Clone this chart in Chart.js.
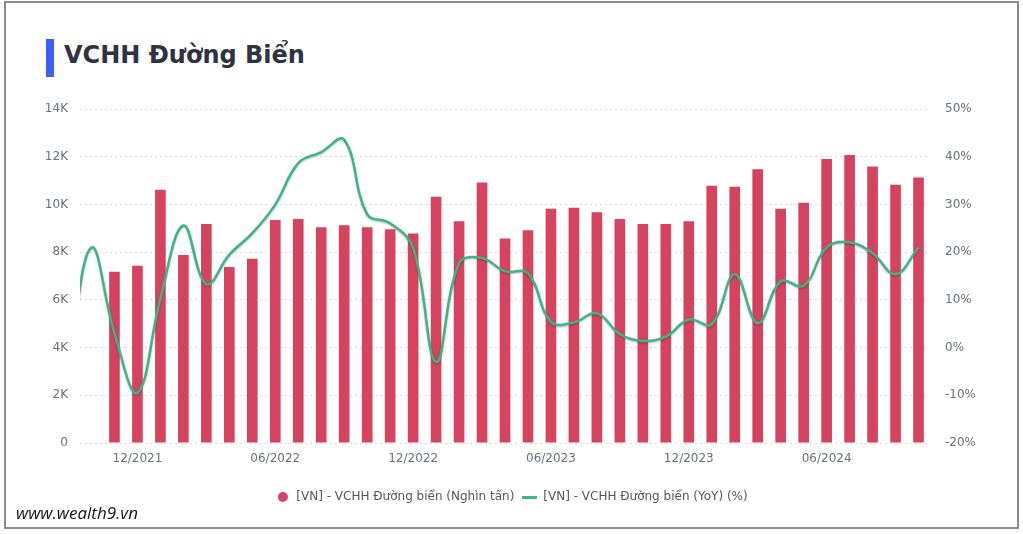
<!DOCTYPE html>
<html><head><meta charset="utf-8">
<script src="https://cdn.jsdelivr.net/npm/chart.js@4.4.0/dist/chart.umd.min.js"></script>
<style>
html,body{margin:0;padding:0;background:#fff;width:1023px;height:534px;overflow:hidden;position:relative;}
#frame{position:absolute;left:4px;top:1px;width:1015px;height:528px;box-sizing:border-box;border:2px solid #8c8c8c;}
#accent{position:absolute;left:46px;top:39px;width:8px;height:38px;background:#3d5ef2;}
#title{position:absolute;left:64px;top:43px;font-family:'DejaVu Sans';font-weight:bold;font-size:24px;line-height:24px;color:#2f3243;white-space:nowrap;}
#wm{position:absolute;left:16px;top:503px;font-family:'Open Sans';font-style:italic;font-size:17px;line-height:20px;color:#111;white-space:nowrap;}
#wrap{position:absolute;left:0;top:87px;width:1023px;height:433px;}
</style></head><body>
<div id="frame"></div>
<div id="accent"></div>
<div id="title">VCHH Đường Biển</div>
<div id="wrap"><canvas id="c" width="1023" height="433"></canvas></div>
<div id="wm">www.wealth9.vn</div>
<script>
const months = ['09/2021','10/2021','11/2021','12/2021','01/2022','02/2022','03/2022','04/2022','05/2022','06/2022','07/2022','08/2022','09/2022','10/2022','11/2022','12/2022','01/2023','02/2023','03/2023','04/2023','05/2023','06/2023','07/2023','08/2023','09/2023','10/2023','11/2023','12/2023','01/2024','02/2024','03/2024','04/2024','05/2024','06/2024','07/2024','08/2024','09/2024','10/2024'];
const volume = [null,null,7180,7430,10620,7890,9180,7380,7730,9350,9390,9050,9130,9050,8970,8790,10330,9300,10930,8580,8920,9820,9870,9680,9390,9180,9180,9300,10790,10750,11480,9820,10080,11910,12080,11600,10830,11140];
const yoy = [-3,21,3,-9.5,10.3,25.6,13.3,19.5,24.0,30.0,38.7,41.0,43.6,28.0,26.1,20.9,-3.0,17.7,18.8,16.0,15.6,5.4,5.3,7.2,2.8,1.4,2.3,5.9,4.9,15.4,5.1,13.9,13.0,21.0,22.1,19.8,15.4,21.0];
const firstShown = '10/2021';
const leftTicks = [0,2000,4000,6000,8000,10000,12000,14000];
const rightTicks = [-20,-10,0,10,20,30,40,50];
const seriesNames = ['[VN] - VCHH Đường biển (Nghìn tấn)','[VN] - VCHH Đường biển (YoY) (%)'];

const BAR = '#d5435e', LINE = '#3cb784';
const dot = document.createElement('canvas'); dot.width = 10; dot.height = 10;
{const g = dot.getContext('2d'); g.fillStyle = BAR; g.beginPath(); g.arc(5,5,5,0,Math.PI*2); g.fill();}
const dash = document.createElement('canvas'); dash.width = 15; dash.height = 3;
{const g = dash.getContext('2d'); g.fillStyle = LINE; g.fillRect(0,0,15,3);}

const lineShadow = {
  id:'lineShadow',
  beforeDatasetDraw(chart, args){
    if (args.meta.type === 'line') {
      const c = chart.ctx; c.save();
      c.shadowColor = 'rgba(0,0,0,0.28)'; c.shadowBlur = 2; c.shadowOffsetX = 0; c.shadowOffsetY = 1;
    }
  },
  afterDatasetDraw(chart, args){ if (args.meta.type === 'line') chart.ctx.restore(); }
};

const tickFont = {family:'DejaVu Sans', size:12};
const tickColor = '#6b6f7b';
new Chart(document.getElementById('c'), {
  type:'bar',
  plugins:[lineShadow],
  data:{
    labels: months,
    datasets:[
      {type:'bar', label:seriesNames[0], data:volume, yAxisID:'y', backgroundColor:BAR, order:1,
       categoryPercentage:0.8, barPercentage:0.58},
      {type:'line', label:seriesNames[1], data:yoy, yAxisID:'y1', borderColor:LINE, backgroundColor:LINE,
       borderWidth:2.5, pointRadius:0, tension:0.4, capBezierPoints:false, order:0}
    ]
  },
  options:{
    responsive:false, animation:false, devicePixelRatio:1,
    layout:{padding:{top:13,bottom:7,left:0,right:0}},
    plugins:{
      tooltip:{enabled:false},
      legend:{position:'bottom',
        labels:{usePointStyle:true, pointStyleWidth:15, padding:8, color:'#555', font:{family:'DejaVu Sans', size:12},
          generateLabels(chart){
            const items = Chart.defaults.plugins.legend.labels.generateLabels(chart);
            items.sort((a,b)=>a.datasetIndex-b.datasetIndex);
            return items.map(it=>Object.assign(it,{pointStyle: it.datasetIndex===0?dot:dash}));
          }}}
    },
    scales:{
      x:{type:'category', min:firstShown, offset:true, grid:{display:false}, border:{display:false},
         ticks:{autoSkip:false, maxRotation:0, padding:1, color:tickColor, font:tickFont,
           callback(v){const l=this.getLabelForValue(v); return (l.startsWith('12/')||l.startsWith('06/'))?l:'';}},
         afterFit(s){s.height=40;}},
      y:{position:'left', min:leftTicks[0], max:leftTicks[leftTicks.length-1],
         afterBuildTicks(s){s.ticks=leftTicks.map(v=>({value:v}));},
         ticks:{padding:12, color:tickColor, font:tickFont, callback:v=>v===0?'0':(v/1000)+'K'},
         grid:{color:'#d9d9d9', drawTicks:false, lineWidth:1}, border:{display:false, dash:[2,3]},
         afterFit(s){s.width=80;}},
      y1:{position:'right', min:rightTicks[0], max:rightTicks[rightTicks.length-1],
         afterBuildTicks(s){s.ticks=rightTicks.map(v=>({value:v}));},
         ticks:{padding:15, color:tickColor, font:tickFont, callback:v=>v+'%'},
         grid:{display:false, drawTicks:false}, border:{display:false},
         afterFit(s){s.width=93;}}
    }
  }
});
</script>
</body></html>
